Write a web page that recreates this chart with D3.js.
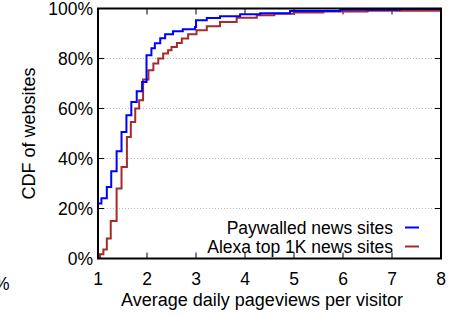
<!DOCTYPE html>
<html>
<head>
<meta charset="utf-8">
<script src="https://cdn.jsdelivr.net/npm/d3@7"></script>
<style>
  body { margin: 0; background: #fff; }
  svg { font-family: "Liberation Sans", Arial, sans-serif; }
</style>
</head>
<body>
<svg width="459" height="316"></svg>
<script>
// CDF of average daily pageviews per visitor (x, cumulative %)
var paywalledX = [1.0, 1.07, 1.18, 1.27, 1.38, 1.48, 1.58, 1.68, 1.79, 1.90, 1.99, 2.09, 2.16, 2.27, 2.37, 2.53, 2.73, 2.98, 3.0, 3.22, 3.49, 3.9, 4.31, 4.92, 5.94, 7.16, 8.0];
var paywalledY = [22, 24.1, 28.6, 34.9, 42.9, 50.6, 57.3, 62.6, 66.9, 70.6, 81.3, 84.1, 86.1, 88.1, 89.7, 90.9, 91.7, 92.6, 95.3, 96.2, 96.9, 97.7, 98.1, 99.0, 99.5, 99.8, 100];

var alexaX = [1.0, 1.04, 1.11, 1.18, 1.26, 1.38, 1.48, 1.59, 1.67, 1.76, 1.84, 1.92, 2.03, 2.13, 2.23, 2.33, 2.43, 2.50, 2.61, 2.71, 2.84, 3.01, 3.22, 3.49, 3.83, 4.24, 4.6, 5.0, 5.6, 6.5, 8.0];
var alexaY = [0.6, 1.7, 3.6, 8, 15, 28, 36.6, 48.6, 54.6, 60, 63.3, 71.6, 75.3, 78, 80, 82, 83.3, 84.6, 86.2, 88, 89.7, 91.3, 92.9, 94.6, 96.3, 97.3, 97.9, 98.4, 98.8, 99.1, 99.3];

var seriesNames = ["Paywalled news sites", "Alexa top 1K news sites"];
var seriesColors = ["#0000ff", "#a52a2a"];
var xTicks = [1, 2, 3, 4, 5, 6, 7, 8];
var yTicks = [0, 20, 40, 60, 80, 100];

function draw() {
    var svg = d3.select("svg");
    var pl = 98, pr = 441, pt = 8.5, pb = 258.5;

    var x = d3.scaleLinear().domain([1, 8]).range([pl, pr]);
    var y = d3.scaleLinear().domain([0, 100]).range([pb, pt]);

    // grid lines
    svg.selectAll(".grid")
        .data([20, 40, 60, 80])
        .enter().append("line")
        .attr("x1", pl).attr("x2", pr)
        .attr("y1", function(d) { return y(d); })
        .attr("y2", function(d) { return y(d); })
        .attr("stroke", "#bbb").attr("stroke-width", 1)
        .attr("stroke-dasharray", "1,2");

    // inward ticks on all four sides
    var g = svg.append("g").attr("stroke", "#000").attr("stroke-width", 1);
    xTicks.forEach(function(t) {
        g.append("line").attr("x1", x(t)).attr("x2", x(t)).attr("y1", pb).attr("y2", pb - 6);
        g.append("line").attr("x1", x(t)).attr("x2", x(t)).attr("y1", pt).attr("y2", pt + 6);
    });
    yTicks.forEach(function(t) {
        g.append("line").attr("x1", pl).attr("x2", pl + 6).attr("y1", y(t)).attr("y2", y(t));
        g.append("line").attr("x1", pr).attr("x2", pr - 6).attr("y1", y(t)).attr("y2", y(t));
    });

    // tick labels
    svg.selectAll(".xl")
        .data(xTicks)
        .enter().append("text")
        .attr("x", function(d) { return x(d); })
        .attr("y", 285)
        .attr("text-anchor", "middle")
        .attr("font-size", 17.5)
        .text(function(d) { return d; });

    svg.selectAll(".yl")
        .data(yTicks)
        .enter().append("text")
        .attr("x", 93)
        .attr("y", function(d) { return y(d) + 6; })
        .attr("text-anchor", "end")
        .attr("font-size", 17.5)
        .text(function(d) { return d + "%"; });

    // stray label at the left edge
    svg.append("text").attr("x", -6).attr("y", 290).attr("font-size", 17.5).text("%");

    // curves
    var line = d3.line()
        .x(function(d) { return x(d[0]); })
        .y(function(d) { return y(d[1]); })
        .curve(d3.curveStepAfter);

    var series = [d3.zip(paywalledX, paywalledY), d3.zip(alexaX, alexaY)];
    svg.selectAll(".curve")
        .data([1, 0])
        .enter().append("path")
        .attr("d", function(i) { return line(series[i]); })
        .attr("fill", "none")
        .attr("stroke", function(i) { return seriesColors[i]; })
        .attr("stroke-width", 2);

    // border
    svg.append("rect")
        .attr("x", pl).attr("y", pt)
        .attr("width", pr - pl).attr("height", pb - pt)
        .attr("fill", "none").attr("stroke", "#000").attr("stroke-width", 2);

    // legend
    seriesNames.forEach(function(name, i) {
        var ly = 227.5 + i * 19;
        svg.append("text")
            .attr("x", 393).attr("y", ly + 6)
            .attr("text-anchor", "end")
            .attr("font-size", 17.5)
            .text(name);
        svg.append("line")
            .attr("x1", 405).attr("x2", 419)
            .attr("y1", ly).attr("y2", ly)
            .attr("stroke", seriesColors[i]).attr("stroke-width", 2);
    });

    // axis titles
    svg.append("text")
        .attr("x", 262).attr("y", 306)
        .attr("text-anchor", "middle")
        .attr("font-size", 18)
        .text("Average daily pageviews per visitor");

    svg.append("text")
        .attr("transform", "translate(35," + ((pt + pb) / 2) + ") rotate(-90)")
        .attr("text-anchor", "middle")
        .attr("font-size", 18)
        .text("CDF of websites");
}
draw();
</script>
</body>
</html>
